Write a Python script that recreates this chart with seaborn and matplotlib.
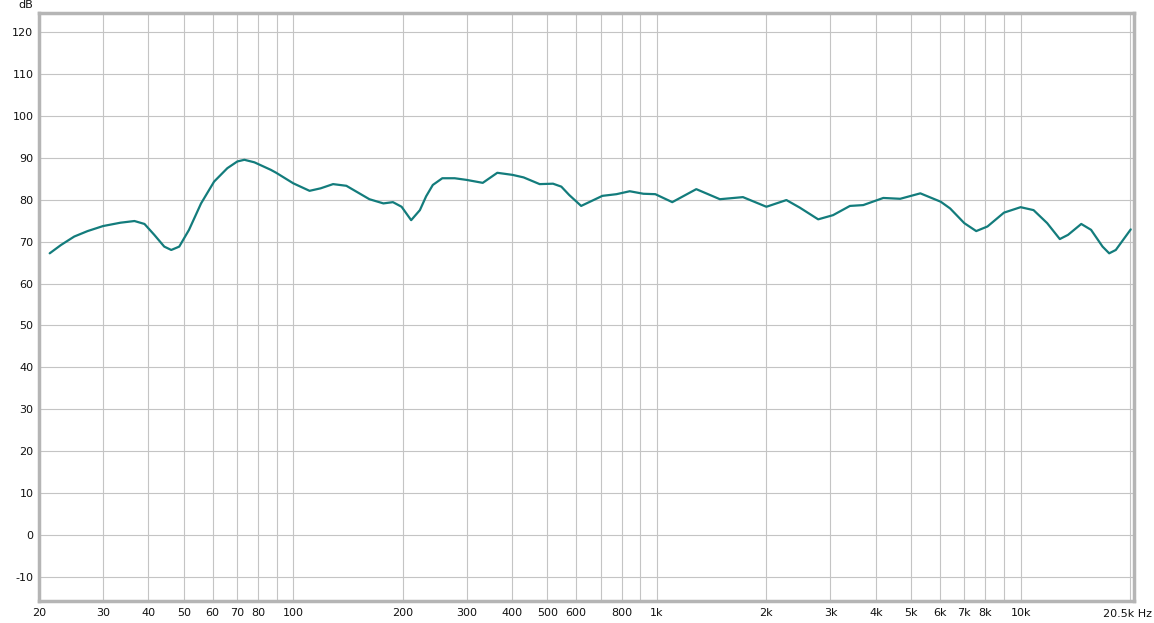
import numpy as np
import pandas as pd
import matplotlib
matplotlib.use("Agg")
import matplotlib.pyplot as plt
import seaborn as sns

# frequency response
freq_hz = [21.4, 23, 25, 27.2, 30, 33.5, 36.6, 39, 41.5, 44.2, 46.2, 48.6, 51.7, 55.8,
           60.6, 65.9, 70.2, 73.4, 78.2, 86.8, 89.8, 100, 110.9, 119, 128.7, 140, 162,
           177, 188, 198.6, 211, 223, 232, 242, 257, 278, 300, 332, 364, 401, 430, 476,
           518, 546, 574, 619, 708, 774, 842, 918, 990, 1102, 1283, 1490, 1724, 2000,
           2270, 2470, 2776, 3050, 3394, 3692, 4192, 4666, 5300, 6030, 6400, 7000, 7550,
           8108, 9000, 10000, 10854, 11830, 12816, 13500, 14680, 15620, 16800, 17520,
           18270, 20080]
level_db = [67.2, 69.2, 71.2, 72.5, 73.7, 74.5, 74.9, 74.2, 71.6, 68.8, 68.0, 68.8, 72.8, 79.1,
            84.3, 87.5, 89.1, 89.5, 88.9, 87.1, 86.4, 83.9, 82.1, 82.7, 83.7, 83.3, 80.1,
            79.1, 79.4, 78.3, 75.1, 77.5, 80.8, 83.5, 85.1, 85.1, 84.7, 84.0, 86.4, 85.9, 85.3, 83.7,
            83.8, 83.1, 81.1, 78.5, 80.9, 81.3, 82.0, 81.4, 81.3, 79.4, 82.5, 80.1, 80.6, 78.3,
            79.9, 78.1, 75.3, 76.3, 78.5, 78.7, 80.4, 80.2, 81.5, 79.5, 77.9, 74.4, 72.5,
            73.6, 76.9, 78.2, 77.5, 74.4, 70.6, 71.6, 74.2, 72.8, 68.8, 67.2,
            68.0, 72.9]

grid_ticks = [20, 30, 40, 50, 60, 70, 80, 90, 100, 200, 300, 400, 500, 600, 700, 800,
              900, 1000, 2000, 3000, 4000, 5000, 6000, 7000, 8000, 9000, 10000, 20000]
grid_labels = ["20", "30", "40", "50", "60", "70", "80", "", "100", "200", "300", "400",
               "500", "600", "", "800", "", "1k", "2k", "3k", "4k", "5k", "6k", "7k",
               "8k", "", "10k", ""]
y_ticks = list(range(-10, 130, 10))

df = pd.DataFrame({"freq": freq_hz, "db": level_db})

sns.set_style("white")
plt.rcParams["font.family"] = ["DejaVu Sans"]
plt.rcParams["axes.unicode_minus"] = False

fig = plt.figure(figsize=(11.54, 6.23), dpi=100)
ax = fig.add_axes([39 / 1154, 1 - 601 / 623, (1134 - 39) / 1154, (601 - 13) / 623])

sns.lineplot(data=df, x="freq", y="db", ax=ax, color="#137c7c", linewidth=1.6)

ax.set_xscale("log")
ax.set_xlim(20, 20500)
ax.set_ylim(-15.7, 124.5)
ax.set_xticks(grid_ticks)
ax.set_xticklabels(grid_labels)
ax.xaxis.set_minor_locator(matplotlib.ticker.NullLocator())
ax.set_yticks(y_ticks)
ax.grid(True, color="#c4c4c4", linewidth=0.8)
ax.tick_params(length=0, labelsize=8, colors="#111111")
ax.tick_params(axis="x", pad=5)
ax.tick_params(axis="y", pad=4)
ax.set_xlabel("")
ax.set_ylabel("")
for s in ax.spines.values():
    s.set_color("#b5b5b5")
    s.set_linewidth(2.5)

fig.text(1152 / 1154, 1 - 614 / 623, "20.5k Hz", ha="right", va="center", fontsize=8, color="#111111")
fig.text(26 / 1154, 1 - 5 / 623, "dB", ha="center", va="center", fontsize=8, color="#111111")

fig.savefig("out.png", dpi=100)
